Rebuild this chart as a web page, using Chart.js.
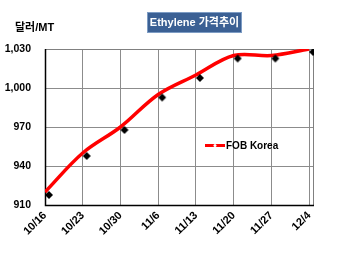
<!DOCTYPE html>
<html>
<head>
<meta charset="utf-8">
<script src="https://cdn.jsdelivr.net/npm/chart.js@4/dist/chart.umd.min.js"></script>
<style>
  html, body { margin: 0; padding: 0; background: #fff; }
  #wrap { width: 350px; height: 254px; position: relative; }
</style>
</head>
<body>
<div id="wrap"><canvas id="chart"></canvas></div>
<script>
const categories = ["10/16", "10/23", "10/30", "11/6", "11/13", "11/20", "11/27", "12/4"];
const fobKorea = [920, 950, 970, 995, 1010, 1025, 1025, 1030];
const yTicks = [910, 940, 970, 1000, 1030];

const FONT = "'Liberation Sans', 'Noto Sans CJK KR', sans-serif";

// black diamond drawn a bit to the lower right of the point, like the original
function diamondMarker()
{
  let c = document.createElement("canvas");
  c.width = 18; c.height = 18;
  let ctx = c.getContext("2d");
  ctx.fillStyle = "#000";
  ctx.beginPath();
  ctx.moveTo(13, 8);
  ctx.lineTo(17, 12);
  ctx.lineTo(13, 16);
  ctx.lineTo(9, 12);
  ctx.closePath();
  ctx.fill();
  return c;
}

let points = fobKorea.map((v, i) => ({ x: i, y: v }));

// title box, unit label, frame and legend
const decor = {
  id: "decor",
  beforeDatasetsDraw(chart) {
    let ctx = chart.ctx, a = chart.chartArea;
    ctx.save();
    ctx.strokeStyle = "#808080";
    ctx.lineWidth = 1;
    ctx.strokeRect(a.left + 0.5, a.top + 0.5, a.right - a.left - 1, a.bottom - a.top);
    ctx.strokeStyle = "#000";
    ctx.lineWidth = 1.5;
    ctx.beginPath();
    ctx.moveTo(a.left + 0.5, a.top);
    ctx.lineTo(a.left + 0.5, a.bottom + 0.5);
    ctx.lineTo(a.right, a.bottom + 0.5);
    ctx.stroke();
    ctx.restore();
  },
  afterDraw(chart) {
    let ctx = chart.ctx;
    ctx.save();
    // title
    ctx.fillStyle = "#3b6094";
    ctx.fillRect(147, 12, 95, 21);
    ctx.strokeStyle = "#7d9cc4";
    ctx.lineWidth = 1;
    ctx.strokeRect(147.5, 12.5, 94, 20);
    ctx.fillStyle = "#fff";
    ctx.font = "bold 11px " + FONT;
    ctx.textAlign = "center";
    ctx.textBaseline = "middle";
    ctx.fillText("Ethylene 가격추이", 194.5, 23);
    // unit
    ctx.fillStyle = "#000";
    ctx.textAlign = "left";
    ctx.font = "bold 11px " + FONT;
    ctx.fillText("달러/MT", 15, 28);
    // legend
    ctx.strokeStyle = "#ff0000";
    ctx.lineWidth = 3;
    ctx.beginPath();
    ctx.moveTo(205, 145.5);
    ctx.lineTo(225, 145.5);
    ctx.stroke();
    ctx.fillStyle = "#fff";
    ctx.beginPath();
    ctx.arc(215, 145.5, 1.5, 0, Math.PI * 2);
    ctx.fill();
    ctx.fillStyle = "#000";
    ctx.font = "bold 10px " + FONT;
    ctx.fillText("FOB Korea", 226, 146);
    ctx.restore();
  }
};

new Chart(document.getElementById("chart"), {
  type: "line",
  data: {
    datasets: [
      {
        label: "FOB Korea",
        data: points,
        borderColor: "#ff0000",
        borderWidth: 3.5,
        tension: 0.35,
        pointRadius: 0,
        fill: false,
        order: 1
      },
      {
        label: "marker",
        data: points,
        showLine: false,
        pointStyle: diamondMarker(),
        pointRadius: 4,
        order: 0
      }
    ]
  },
  options: {
    responsive: true,
    maintainAspectRatio: false,
    animation: false,
    layout: { padding: { top: 49, right: 36, left: 0, bottom: 0 } },
    plugins: {
      legend: { display: false },
      tooltip: { enabled: false }
    },
    scales: {
      x: {
        type: "linear",
        min: 0,
        max: 7.13,
        afterFit: (s) => { s.height = 49; },
        border: { display: false },
        grid: { color: "#8c8c8c", lineWidth: 1, drawTicks: false },
        ticks: {
          stepSize: 1,
          includeBounds: false,
          autoSkip: false,
          maxRotation: 45,
          minRotation: 45,
          padding: 4,
          color: "#000",
          font: { family: FONT, size: 11, weight: "bold" },
          callback: (v) => Number.isInteger(v) ? categories[v] : ""
        }
      },
      y: {
        min: yTicks[0],
        max: yTicks[yTicks.length - 1],
        afterFit: (s) => { s.width = 45; },
        afterBuildTicks: (s) => { s.ticks = yTicks.map(v => ({ value: v })); },
        border: { display: false },
        grid: { color: "#8c8c8c", lineWidth: 1, drawTicks: false },
        ticks: {
          padding: 14,
          color: "#000",
          font: { family: FONT, size: 10.5, weight: "bold" },
          callback: (v) => v.toLocaleString("en-US")
        }
      }
    }
  },
  plugins: [decor]
});
</script>
</body>
</html>
